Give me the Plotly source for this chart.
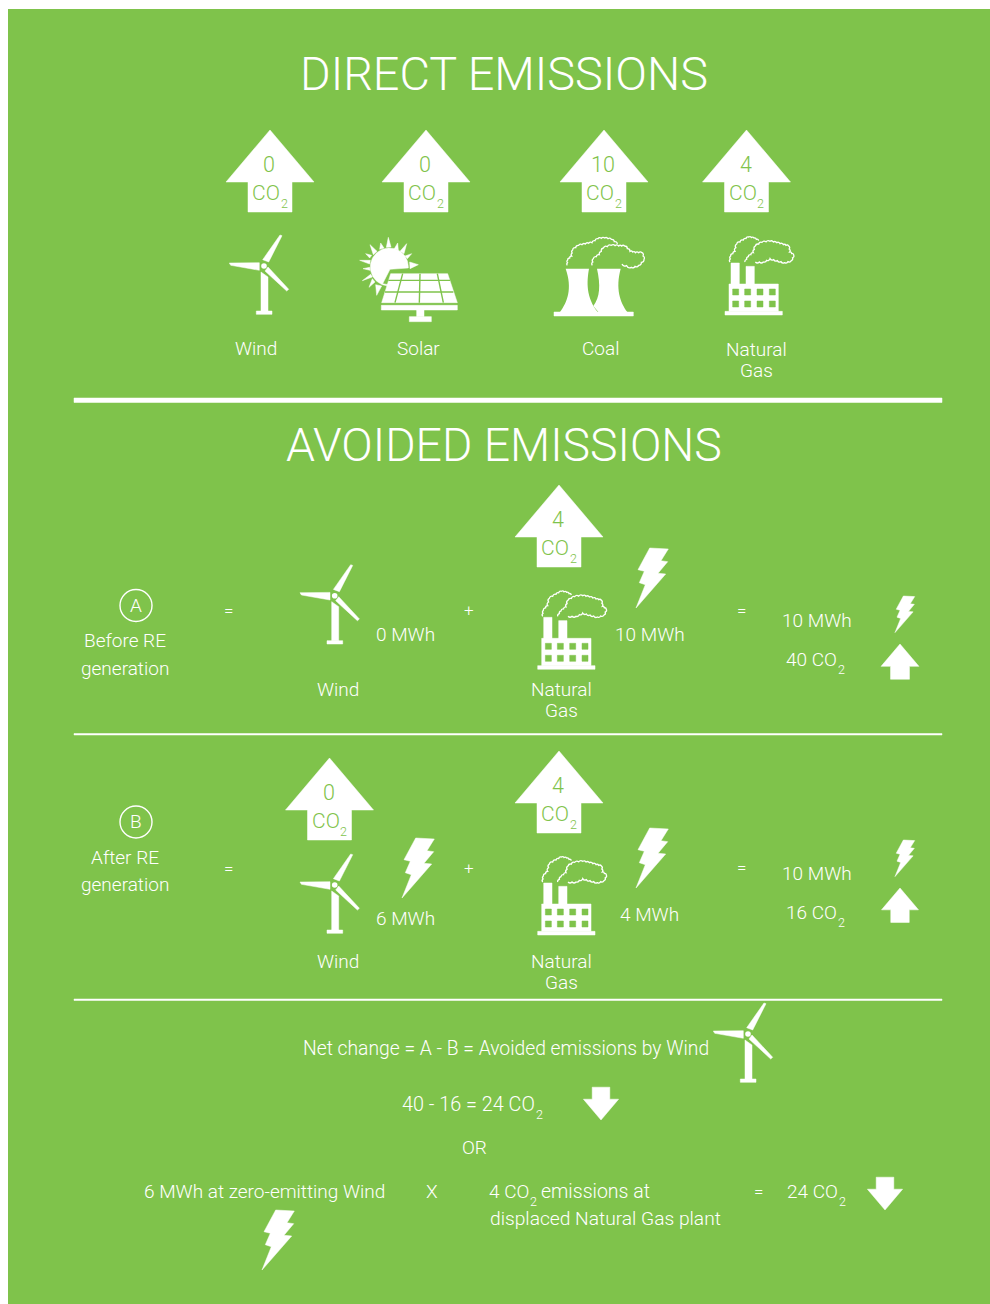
import math
import plotly.graph_objects as go

# Values
direct_sources = ["Wind", "Solar", "Coal", "Natural Gas"]
direct_co2 = [0, 0, 10, 4]
gas_rate = 4
wind_rate = 0
before_wind_mwh = 0
before_gas_mwh = 10
before_total_mwh = 10
before_co2 = 40
after_wind_mwh = 6
after_gas_mwh = 4
after_total_mwh = 10
after_co2 = 16
avoided_co2 = 24

GREEN = "#7FC34B"
WHITE = "#FFFFFF"
FONT = "Roboto"
BODY = 19

fig = go.Figure()
shapes = []
annotations = []


def poly(points, ox=0, oy=0, s=1.0, color=WHITE):
    xs = [ox + p[0] * s for p in points] + [ox + points[0][0] * s]
    ys = [oy + p[1] * s for p in points] + [oy + points[0][1] * s]
    fig.add_trace(go.Scatter(x=xs, y=ys, mode="lines", fill="toself", fillcolor=color,
                             line=dict(width=0.5, color=color), hoverinfo="skip", showlegend=False))


def rect(x0, y0, x1, y1, ox=0, oy=0, s=1.0, color=WHITE):
    poly([(x0, y0), (x1, y0), (x1, y1), (x0, y1)], ox, oy, s, color)


def text(x, y, label, size=BODY, color=WHITE, anchor="center"):
    annotations.append(dict(x=x, y=y - 1, xref="x", yref="y", text=label, showarrow=False,
                            xanchor=anchor, yanchor="middle", borderpad=0,
                            font=dict(family=FONT, size=size, color=color, weight=300)))


def co2_text(x, y, label, color=WHITE, size=BODY):
    # label ends at x, the small 2 hangs just after it
    text(x, y, label, size=size, color=color, anchor="right")
    text(x - 1.5, y + 10, "2", size=12.5, color=color, anchor="left")


def scallop(points, ox, oy, s, bulge=0.5):
    # cloud outline: each step is split in two small bumps pushed outward
    x0, y0 = points[0]
    d = f"M {ox + x0 * s:.2f} {oy + y0 * s:.2f}"
    for (x2, y2) in points[1:]:
        for x1, y1 in [((x0 + x2) / 2, (y0 + y2) / 2), (x2, y2)]:
            cx = (x0 + x1) / 2 + (y1 - y0) * bulge
            cy = (y0 + y1) / 2 - (x1 - x0) * bulge
            d += f" Q {ox + cx * s:.2f} {oy + cy * s:.2f} {ox + x1 * s:.2f} {oy + y1 * s:.2f}"
            x0, y0 = x1, y1
    shapes.append(dict(type="path", path=d, xref="x", yref="y", line=dict(color=WHITE, width=1.3)))


def curve(d, ox, oy, s):
    # d is a list of (command, coords...) in icon units
    out = []
    for cmd, *nums in d:
        pairs = [f"{ox + nums[i] * s:.2f} {oy + nums[i + 1] * s:.2f}" for i in range(0, len(nums), 2)]
        out.append(cmd + " " + " ".join(pairs))
    shapes.append(dict(type="path", path=" ".join(out) + " Z", xref="x", yref="y",
                       fillcolor=WHITE, line=dict(width=0)))


ARROW = [(0, 0), (44, 52), (22, 52), (22, 82), (-22, 82), (-22, 52), (-44, 52)]


def up_arrow(cx, top, s=1.0):
    poly(ARROW, cx, top, s)


def down_arrow(cx, bottom, s=0.4):
    poly([(x, -y) for x, y in ARROW], cx, bottom, s)


def co2_arrow(cx, top, value):
    up_arrow(cx, top)
    text(cx - 1, top + 35, str(value), size=21.5, color=GREEN)
    co2_text(cx + 11, top + 64, "CO", color=GREEN, size=21)


BOLT = [(13.7, 0), (32.3, 1), (25, 12.7), (31.7, 13.7), (22, 25.3), (29.7, 26), (0, 60),
        (9.3, 36.7), (3.3, 34.7), (8.3, 23.3), (2, 21.7)]


def bolt(x, y, s=1.0):
    poly(BOLT, x, y, s)


def turbine(hx, hy):
    poly([(-1.3, -6.3), (16, -31), (18, -30.3), (4.7, -4)], hx, hy)
    poly([(-34.7, -3), (-4.7, -3.3), (-4.7, 4.3), (-33.3, -0.7)], hx, hy)
    poly([(4, 1), (24.7, 23.3), (22.7, 25), (1, 5)], hx, hy)
    poly([(-3, 6), (4, 11), (4, 45), (-3, 45)], hx, hy)
    rect(-7.7, 45, 8, 48.3, hx, hy)
    shapes.append(dict(type="circle", xref="x", yref="y", x0=hx - 2.8, x1=hx + 2.8, y0=hy - 2.8, y1=hy + 2.8,
                       fillcolor=WHITE, line=dict(width=0)))


def solar(ox, oy):
    s = 1 / 3
    cx, cy, r = 103, 105, 57
    pie = [(105, 112)]
    for i in range(0, 61):
        a = math.radians(3 - i * 4.75)
        pie.append((cx + r * math.cos(a), cy + r * math.sin(a)))
    pie.append((83, 155))
    poly(pie, ox, oy, s)
    rays = [[(100, 16), (94, 46), (108, 45)], [(77, 33), (74, 52), (87, 48)], [(45, 38), (55, 68), (66, 58)],
            [(32, 65), (44, 78), (50, 70)], [(14, 85), (44, 96), (46, 85)], [(24, 110), (44, 106), (45, 115)],
            [(22, 146), (47, 127), (52, 135)], [(42, 166), (52, 140), (60, 150)], [(65, 190), (62, 158), (80, 162)],
            [(128, 33), (118, 50), (130, 55)], [(155, 35), (135, 58), (147, 65)], [(170, 65), (150, 72), (157, 80)],
            [(190, 98), (164, 90), (165, 110)]]
    for ray in rays:
        poly(ray, ox, oy, s)
    poly([(107, 125), (278, 125), (307, 212), (80, 212)], ox, oy, s)
    for a, b in [((143, 125), (120, 212)), ((195, 125), (193, 212)), ((247, 125), (265, 212)),
                 ((100, 145), (285, 145)), ((90, 180), (295, 180))]:
        shapes.append(dict(type="line", xref="x", yref="y", x0=ox + a[0] * s, y0=oy + a[1] * s,
                           x1=ox + b[0] * s, y1=oy + b[1] * s, line=dict(color=GREEN, width=1.4)))
    rect(79, 220, 307, 234, ox, oy, s)
    rect(185, 234, 207, 254, ox, oy, s)
    rect(163, 254, 229, 269, ox, oy, s)


def coal(ox, oy):
    s = 1 / 3
    curve([("M", 47, 110), ("L", 117, 110), ("C", 110, 150, 108, 195, 143, 240), ("L", 30, 240),
           ("C", 52, 210, 68, 170, 47, 110)], ox, oy, s)
    curve([("M", 141, 110), ("L", 212, 110), ("C", 196, 170, 210, 210, 232, 240), ("L", 145, 240),
           ("L", 130, 222), ("C", 150, 195, 152, 160, 141, 110)], ox, oy, s)
    rect(12, 240, 250, 252, ox, oy, s)
    scallop([(52, 100), (53, 84), (65, 72), (68, 54), (86, 40), (106, 36), (126, 32), (144, 20), (164, 18),
              (184, 22), (202, 36)], ox, oy, s)
    scallop([(127, 100), (130, 80), (148, 68), (160, 48), (184, 40), (206, 42), (224, 42), (240, 58), (256, 62),
              (276, 62), (282, 82), (266, 100), (244, 106), (216, 96)], ox, oy, s)


def factory(ox, oy):
    s = 1 / 3
    rect(33, 93, 58, 158, ox, oy, s)
    rect(78, 103, 103, 158, ox, oy, s)
    rect(27, 156, 175, 238, ox, oy, s)
    rect(15, 238, 187, 249, ox, oy, s)
    for wx in [38, 74, 111, 148]:
        for wy in [171, 207]:
            rect(wx, wy, wx + 18, wy + 18, ox, oy, s, GREEN)
    scallop([(30, 90), (32, 72), (45, 58), (50, 36), (70, 24), (86, 15), (102, 18), (116, 26)], ox, oy, s)
    scallop([(75, 90), (85, 74), (100, 62), (106, 42), (126, 31), (150, 28), (170, 32), (190, 38), (206, 42),
              (209, 60), (221, 69), (214, 86), (194, 92), (172, 86), (150, 80), (130, 90), (106, 90)], ox, oy, s)


# Background
shapes.append(dict(type="rect", xref="x", yref="y", x0=8, x1=990, y0=9, y1=1304, fillcolor=GREEN,
                   line=dict(width=0), layer="below"))

# Direct emissions
text(504, 75, "DIRECT EMISSIONS", size=46.8)
for cx, v in zip([270, 426, 604, 746.5], direct_co2):
    co2_arrow(cx, 130, v)
turbine(264, 266)
solar(355, 232)
coal(550, 232)
factory(720, 232)
text(255.5, 349, direct_sources[0])
text(418.5, 349, direct_sources[1])
text(600, 349, direct_sources[2])
text(756, 350, direct_sources[3].split()[0])
text(756, 371, direct_sources[3].split()[1])

rect(74, 398, 942, 402.5)

# Avoided emissions
text(503.5, 446, "AVOIDED EMISSIONS", size=46.4)

# Scenario A
shapes.append(dict(type="circle", xref="x", yref="y", x0=120, x1=152, y0=589.5, y1=621.5,
                   line=dict(color=WHITE, width=1.4)))
text(135.5, 606, "A")
text(125, 641, "Before RE")
text(124.5, 669.5, "generation")
text(228, 611, "=", size=17)
turbine(334.7, 595.7)
text(338, 690, "Wind")
text(405, 635, f"{before_wind_mwh} MWh")
text(468.5, 611, "+", size=17)
co2_arrow(559, 485, gas_rate)
factory(532.7, 586.3)
text(561, 690, "Natural")
text(561, 711, "Gas")
bolt(636, 548)
text(650, 635, f"{before_gas_mwh} MWh")
text(741, 611, "=", size=17)
text(817, 621, f"{before_total_mwh} MWh")
co2_text(838, 660, f"{before_co2} CO")
bolt(895, 596, 0.61)
up_arrow(900, 644, 0.43)

rect(74, 733.5, 942, 735)

# Scenario B
shapes.append(dict(type="circle", xref="x", yref="y", x0=120, x1=152, y0=806, y1=838,
                   line=dict(color=WHITE, width=1.4)))
text(135.5, 822.5, "B")
text(125, 858, "After RE")
text(124.5, 885, "generation")
text(228, 868.5, "=", size=17)
co2_arrow(329.5, 758, wind_rate)
turbine(334.7, 885)
bolt(402, 838)
text(405, 919, f"{after_wind_mwh} MWh")
text(338, 962, "Wind")
text(468.5, 868.5, "+", size=17)
co2_arrow(559, 751, gas_rate)
factory(532.7, 852)
text(561, 962, "Natural")
text(561, 983, "Gas")
bolt(636, 828)
text(649, 915, f"{after_gas_mwh} MWh")
text(741, 868, "=", size=17)
text(817, 874, f"{after_total_mwh} MWh")
co2_text(838, 913, f"{after_co2} CO")
bolt(895, 840, 0.61)
up_arrow(900, 888, 0.42)

rect(74, 999, 942, 1000.5)

# Net change
text(505.5, 1049, "Net change = A - B = Avoided emissions by Wind", size=19.3)
turbine(748, 1034)
co2_text(536, 1105, f"{before_co2} - {after_co2} = {avoided_co2} CO", size=19.8)
down_arrow(601, 1120, 0.4)
text(474.5, 1148, "OR")
text(264.5, 1192, f"{after_wind_mwh} MWh at zero-emitting Wind")
text(432, 1192, "X")
co2_text(530, 1192, f"{gas_rate} CO")
text(540, 1192, "emissions at", size=19.5, anchor="left")
text(489, 1219, "displaced Natural Gas plant", size=19.2, anchor="left")
text(758, 1192, "=", size=17)
co2_text(839, 1192, f"{avoided_co2} CO")
down_arrow(885, 1210, 0.4)
bolt(262, 1210)

fig.update_layout(width=990, height=1304, margin=dict(l=0, r=0, t=0, b=0),
                  paper_bgcolor=WHITE, plot_bgcolor=WHITE, showlegend=False,
                  shapes=shapes, annotations=annotations,
                  xaxis=dict(range=[0, 990], visible=False, fixedrange=True),
                  yaxis=dict(range=[1304, 0], visible=False, fixedrange=True))

fig.write_html("out.html", config=dict(displayModeBar=False),
               post_script="document.body.style.margin = '0';")
